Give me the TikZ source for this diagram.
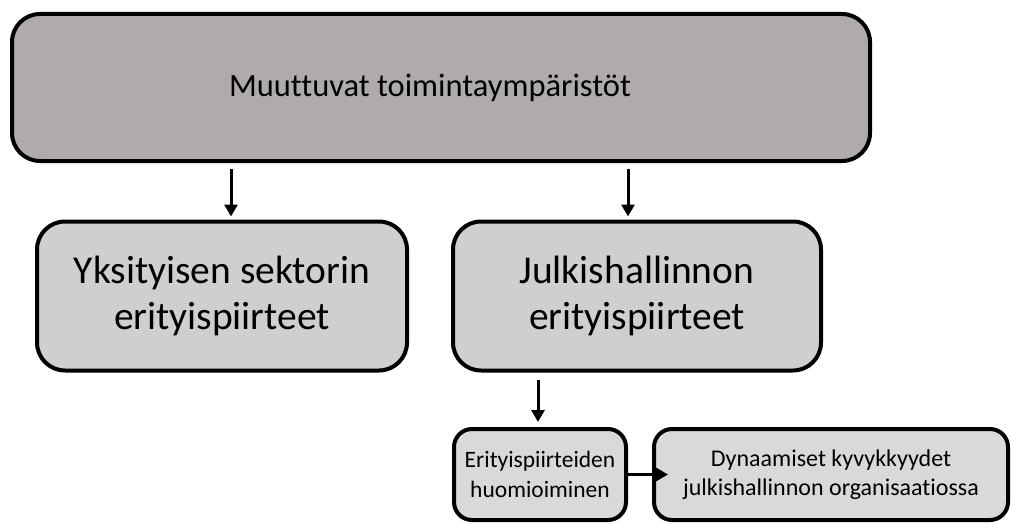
\documentclass[tikz,border=0pt]{standalone}
\usepackage{fontspec}
\setmainfont{Carlito}[Ligatures={NoCommon}]
\usetikzlibrary{arrows.meta}
\definecolor{darkbox}{HTML}{AFABAB}
\definecolor{midbox}{HTML}{D0CECE}
\definecolor{lightbox}{HTML}{D9D9D9}
\tikzset{
  box/.style={draw=black, line width=4pt, rounded corners=28pt, align=center, inner sep=0pt},
  smallbox/.style={draw=black, line width=4pt, rounded corners=18pt, align=center, inner sep=0pt},
  arr/.style={line width=3pt, -{Triangle[length=12pt,width=13pt]}},
}
\begin{document}
\begin{tikzpicture}[x=1pt,y=-1pt]
\useasboundingbox (0,0) rectangle (1011,524);
% top level (title set a little left of the box centre)
\node[box, fill=darkbox, minimum width=858pt, minimum height=147pt,
      font=\fontsize{32.5}{38}\selectfont] (top) at (441,87.5) {Muuttuvat toimintaympäristöt\hspace*{22pt}};
% sector boxes
\node[box, fill=midbox, minimum width=370pt, minimum height=149pt,
      font=\fontsize{39.5}{46}\selectfont] (priv) at (222,296) {Yksityisen sektorin\\erityispiirteet};
\node[box, fill=midbox, minimum width=368pt, minimum height=149pt,
      font=\fontsize{39.5}{46}\selectfont] (publ) at (637,296) {Julkishallinnon\\erityispiirteet};
% bottom row
\node[smallbox, fill=lightbox, minimum width=172pt, minimum height=91pt,
      font=\fontsize{23.5}{29.5}\selectfont] (cons) at (540,474.5) {Erityispiirteiden\\huomioiminen};
\node[smallbox, fill=lightbox, minimum width=354pt, minimum height=91pt,
      font=\fontsize{24}{29.5}\selectfont] (dyn) at (831,474.5) {Dynaamiset kyvykkyydet\\julkishallinnon organisaatiossa};
% connectors
\draw[arr, shorten <=6pt, shorten >=3pt] ([xshift=9pt]top.south -| priv.north) -- ([xshift=9pt]priv.north);
\draw[arr, shorten <=6pt, shorten >=3pt] ([xshift=-9pt]top.south -| publ.north) -- ([xshift=-9pt]publ.north);
\draw[arr, shorten <=7pt, shorten >=5pt] ([xshift=-2pt]publ.south -| cons.north) -- ([xshift=-2pt]cons.north);
\draw[arr] ([xshift=-4pt]cons.east) -- ([xshift=16pt]dyn.west);
\end{tikzpicture}
\end{document}
